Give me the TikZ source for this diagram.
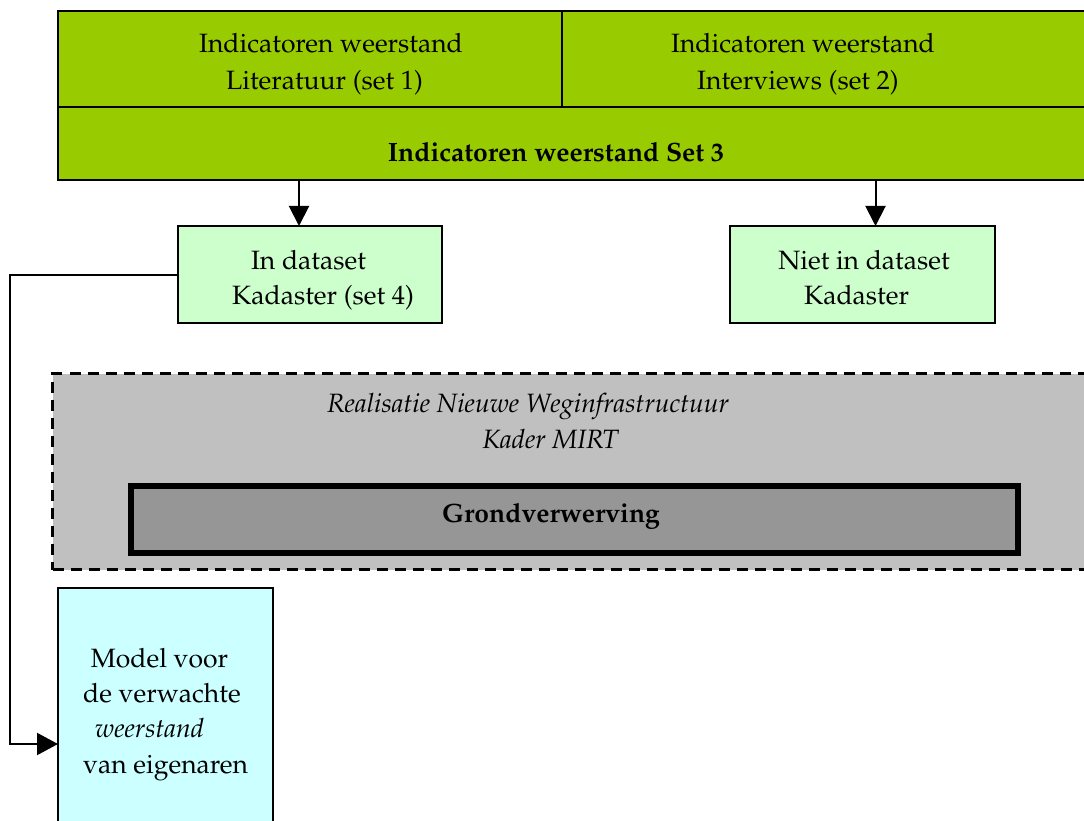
\documentclass[tikz,border=0pt]{standalone}
\usepackage[T1]{fontenc}
\renewcommand{\rmdefault}{ppl}
\usetikzlibrary{arrows.meta,calc}
\definecolor{topgreen}{HTML}{99CC00}
\definecolor{palegreen}{HTML}{CCFFCC}
\definecolor{palecyan}{HTML}{CCFFFF}
\definecolor{bggray}{HTML}{C0C0C0}
\definecolor{dkgray}{HTML}{969696}
\begin{document}
\begin{tikzpicture}[x=1pt,y=-1pt,
  cell/.style={draw, line width=2pt, inner sep=0, outer sep=0, anchor=north west},
  txt/.style={font=\fontsize{26.5}{36}\selectfont, inner sep=0, anchor=base},
  txtl/.style={txt, anchor=base west},
  arr/.style={line width=2pt, -{Triangle[length=20pt,width=20pt]}}]
\useasboundingbox (0,0) rectangle (1084,821);
\clip (0,0) rectangle (1084,821);

% top block
\node[cell, fill=topgreen, minimum width=504, minimum height=96] (lit) at (58,11) {};
\node[cell, fill=topgreen, minimum width=540, minimum height=96] (int) at (562,11) {};
\node[cell, fill=topgreen, minimum width=1042, minimum height=73] (set3) at (58,107) {};
\node[txt] (tlit1) at (331,53) {Indicatoren weerstand};
\node[txt] (tlit2) at (324.5,90) {Literatuur (set 1)};
\node[txt] (tint1) at (803,53) {Indicatoren weerstand};
\node[txt] (tint2) at (798,90) {Interviews (set 2)};
\node[txt, font=\fontsize{26.5}{36}\selectfont\bfseries] (tset3) at (556,162) {Indicatoren weerstand Set 3};

% Kadaster boxes
\node[cell, fill=palegreen, minimum width=264, minimum height=97] (indata) at (178,226) {};
\node[txt] (tin1) at (308.5,269) {In dataset};
\node[txt] (tin2) at (323,304) {Kadaster (set 4)};
\node[cell, fill=palegreen, minimum width=265, minimum height=97] (niet) at (730,226) {};
\node[txt] (tniet1) at (864,269) {Niet in dataset};
\node[txt] (tniet2) at (856.5,304) {Kadaster};

\coordinate (a1) at ($(indata.north)+(-11,0)$);
\draw[arr] (a1 |- set3.south) -- (a1);
\coordinate (a2) at ($(niet.north)+(13,0)$);
\draw[arr] (a2 |- set3.south) -- (a2);

% MIRT frame
\node[cell, fill=bggray, line width=3pt, dash pattern=on 11pt off 7pt, minimum width=1050, minimum height=196] (mirt) at (52.5,373.5) {};
\node[txt, font=\fontsize{26.5}{36}\selectfont\itshape] (tmirt1) at (528,412) {Realisatie Nieuwe Weginfrastructuur};
\node[txt, font=\fontsize{26.5}{36}\selectfont\itshape] (tmirt2) at (550.5,448) {Kader MIRT};
\node[cell, fill=dkgray, line width=6pt, minimum width=887, minimum height=67] (grond) at (131,486) {};
\node[txt, font=\fontsize{26.5}{36}\selectfont\bfseries] (tgrond) at (551,522) {Grondverwerving};

% model
\node[cell, fill=palecyan, minimum width=215, minimum height=250] (model) at (58,588) {};
\node[txtl] (tm1) at (90.7,667) {Model voor};
\node[txtl] (tm2) at (83,702) {de verwachte};
\node[txtl] (tm3) at (95,737) {\textit{weerstand}};
\node[txtl] (tm4) at (83,773) {van eigenaren};

\coordinate (m1) at ($(model.west)+(0,31)$);
\draw[arr, -{Triangle[length=21pt,width=22pt]}] (indata.west) -- ++(-168,0) |- (m1);
\end{tikzpicture}
\end{document}
